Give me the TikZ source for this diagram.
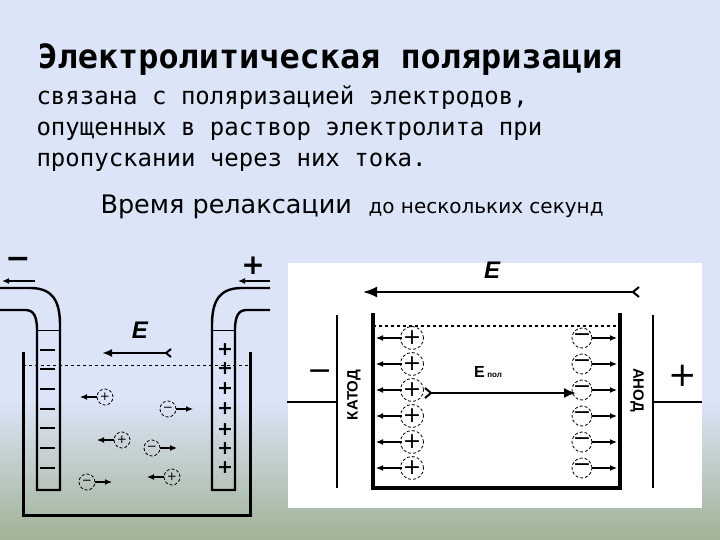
\documentclass[tikz,border=0pt]{standalone}
\usepackage{fontspec}
\setmainfont{DejaVu Sans}
\newfontfamily\monof{DejaVu Sans Mono}
\newfontfamily\boldsans{Liberation Sans}
\usetikzlibrary{arrows.meta}
\begin{document}
\begin{tikzpicture}[x=1pt,y=-1pt,
  wall/.style={line width=3pt},
  thin/.style={line width=1.6pt},
  arr/.style={line width=1.6pt,-{Latex[length=7pt,width=6pt]}},
  ion/.style={circle,draw,densely dashed,line width=0.8pt,minimum size=16pt,inner sep=0pt,font=\large},
  lbl/.style={font=\boldsans\bfseries\itshape\fontsize{24}{24}\selectfont}]
\useasboundingbox (0,0) rectangle (720,540);
\fill[fill={rgb,255:red,220;green,228;blue,248}] (0,0) rectangle (720,400);
\shade[top color={rgb,255:red,220;green,228;blue,248},bottom color={rgb,255:red,160;green,178;blue,150}] (0,400) rectangle (720,540);
% text
\node[anchor=west,font=\monof\bfseries\fontsize{33.5}{36}\selectfont] (t1) at (34,60) {Электролитическая поляризация};
\node[anchor=north west,align=left,font=\monof\fontsize{24}{31}\selectfont] (t2) at (33,82) {связана с поляризацией электродов,\\опущенных в раствор электролита при\\пропускании через них тока.};
\node[anchor=west,font=\fontsize{25.5}{28}\selectfont] (t3) at (97,207) {Время релаксации};
\node[anchor=west,font=\fontsize{20}{22}\selectfont] (t4) at (365,210) {до нескольких секунд};
% ---------- left panel
\draw[wall] (23,352) -- (23,515) -- (250,515) -- (250,352);
\draw[dashed,line width=0.8pt] (23,365) -- (250,365);
% left electrode
\draw[wall,line width=2.4pt] (0,288) -- (30,288) .. controls (52,288) and (60,300) .. (60,325) -- (60,490) -- (37,490) -- (37,330) .. controls (37,315) and (33,310) .. (25,310) -- (0,310);
\draw[line width=1pt] (37,330) -- (60,330);
\foreach \y in {350,369,389,409,428,448,468} \draw[line width=2.5pt] (40,\y) -- (55,\y);
\node[font=\fontsize{30}{30}\selectfont\bfseries] (mL) at (18,263) {−};
\coordinate (aL1) at (35,281); \coordinate (aL2) at (2,281);
\draw[arr,line width=2.5pt] (aL1) -- (aL2);
% right electrode
\draw[wall,line width=2.4pt] (270,288) -- (242,288) .. controls (220,288) and (212,300) .. (212,325) -- (212,490) -- (235,490) -- (235,330) .. controls (235,315) and (239,310) .. (247,310) -- (270,310);
\draw[line width=1pt] (212,330) -- (235,330);
\foreach \y in {350,369,389,409,430,449,468} \node[font=\fontsize{19}{19}\selectfont\bfseries,inner sep=0pt] at (225,\y) {+};
\node[font=\fontsize{28}{28}\selectfont\bfseries] (pL) at (253,266) {+};
\coordinate (aR1) at (270,281); \coordinate (aR2) at (238,281);
\draw[arr,line width=2.5pt] (aR1) -- (aR2);
% E
\node[lbl] (E1) at (140,330) {E};
\coordinate (e1a) at (172,353); \coordinate (e1b) at (102,353);
\draw[line width=2pt,{Straight Barb[length=5pt,width=8pt,reversed]}-{Latex[length=10pt,width=8pt]}] (e1a) -- (e1b);
% ions
\foreach \x/\y/\s/\d in {105/397/+/-1, 168/409/−/1, 122/440/+/-1, 152/448/−/1, 172/477/+/-1, 87/482/−/1}{
  \node[ion] (i) at (\x,\y) {\s};
  \draw[arr,line width=1.2pt] (\x+8*\d,\y) -- ++(17*\d,0);
}
% ---------- right panel
\fill[white] (288,263) rectangle (702,508);
\node[lbl] (E2) at (492,270) {E};
\coordinate (e2a) at (640,292); \coordinate (e2b) at (363,292);
\draw[line width=2pt,{Straight Barb[length=6pt,width=10pt,reversed]}-{Latex[length=14pt,width=11pt]}] (e2a) -- (e2b);
\draw[line width=4pt] (373,313) -- (373,488) -- (620,488) -- (620,313);
\draw[dashed,line width=1.2pt] (373,326) -- (620,326);
\draw[line width=2.2pt] (337,315) -- (337,488);
\draw[line width=2.2pt] (653,315) -- (653,488);
\draw[line width=1.5pt] (287,402) -- (337,402);
\draw[line width=1.5pt] (653,402) -- (702,402);
\node[font=\fontsize{30}{30}\selectfont] (m2) at (320,375) {−};
\node[font=\fontsize{34}{34}\selectfont] (p2) at (683,376) {+};
\node[rotate=90,font=\boldsans\bfseries\fontsize{15}{15}\selectfont] (kat) at (354,395) {КАТОД};
\node[rotate=-90,font=\boldsans\bfseries\fontsize{15}{15}\selectfont] (an) at (637,390) {АНОД};
\foreach \k in {0,...,5}{
  \pgfmathsetmacro{\yy}{338+\k*26}
  \node[ion,minimum size=19pt,font=\fontsize{22}{22}\selectfont] at (412,\yy) {+};
  \draw[arr,line width=1.2pt] (402,\yy) -- (376,\yy);
  \node[ion,minimum size=19pt,font=\fontsize{22}{22}\selectfont] at (582,\yy) {−};
  \draw[arr,line width=1.2pt] (592,\yy) -- (617,\yy);
}
\node[font=\boldsans\bfseries\fontsize{16}{16}\selectfont] (ep) at (488,372) {E\,\footnotesize пол};
\coordinate (p1) at (424,393); \coordinate (p2b) at (576,393);
\draw[line width=2pt,{Straight Barb[length=6pt,width=10pt,reversed]}-{Latex[length=12pt,width=10pt]}] (p1) -- (p2b);
\end{tikzpicture}
\end{document}
